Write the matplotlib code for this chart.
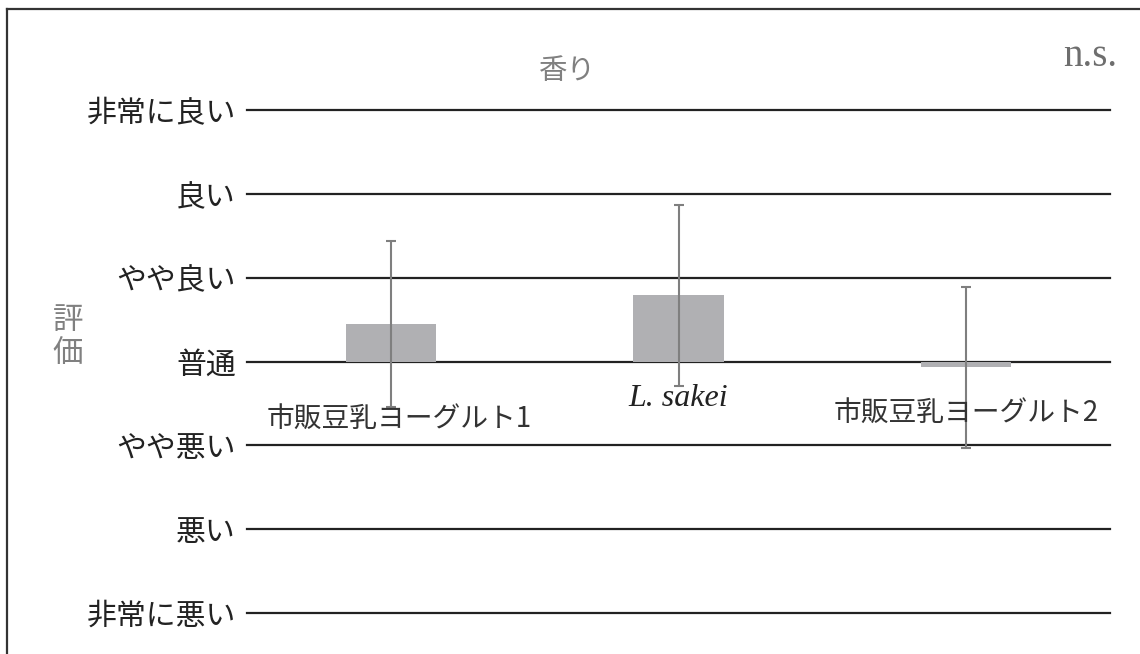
import matplotlib
matplotlib.use("Agg")
import matplotlib.pyplot as plt
from matplotlib.lines import Line2D

plt.rcParams['font.family'] = ['Noto Sans CJK JP', 'DejaVu Sans']

# -------------------------
# Data
# -------------------------
categories = ["市販豆乳ヨーグルト1", "L. sakei", "市販豆乳ヨーグルト2"]
means = [0.45, 0.79, -0.07]
sds = [0.99, 1.08, 0.96]
levels = [-3, -2, -1, 0, 1, 2, 3]
level_labels = ["非常に悪い", "悪い", "やや悪い", "普通", "やや良い", "良い", "非常に良い"]
title = "香り"
ylabel = "評\n価"
sig_text = "n.s."

# -------------------------
# Figure / axes
# -------------------------
W, H = 1140, 654
fig = plt.figure(figsize=(W / 100, H / 100), dpi=100)
ax = fig.add_axes([247 / W, (H - 613) / H, (1110 - 247) / W, (613 - 110) / H])

x = list(range(len(categories)))
ax.bar(x, means, width=0.313, color="#b0b0b3", zorder=2)
ax.errorbar(x, means, yerr=sds, fmt="none", ecolor="#7f7f7f",
            elinewidth=1.5, capsize=3.4, capthick=1.5, zorder=3)

ax.set_xlim(-0.5, len(categories) - 0.5)
ax.set_ylim(-3, 3)
ax.set_yticks(levels)
ax.set_yticklabels(level_labels, fontsize=21.5, color="#222222")
ax.set_xticks([])
ax.tick_params(axis="y", length=0, pad=8)
for s in ax.spines.values():
    s.set_visible(False)
for lv in levels:
    ax.axhline(lv, color="#222222", lw=1.6, zorder=1, clip_on=False)

# category labels sit just under the zero line, like the original
label_offsets = [(0.03, -0.68), (0.0, -0.44), (0.0, -0.61)]
for i, (name, (dx, dy)) in enumerate(zip(categories, label_offsets)):
    if name.startswith("L."):
        ax.text(i + dx, dy, name, ha="center", va="center", fontsize=23,
                family="Liberation Serif", style="italic", color="#222222", zorder=4)
    else:
        ax.text(i + dx, dy, name, ha="center", va="center", fontsize=20,
                color="#333333", zorder=4)

# title, axis label, significance mark
fig.text(567 / W, 1 - 71 / H, title, ha="center", va="center", fontsize=20.5, color="#808080")
fig.text(68 / W, 1 - 337 / H, ylabel, ha="center", va="center", fontsize=22,
         color="#808080", linespacing=1.05)
fig.text(1090 / W, 1 - 57 / H, sig_text, ha="center", va="center", fontsize=28,
         family="Liberation Serif", color="#6e6e6e")

# frame (left + top only visible in the crop)
fig.add_artist(Line2D([7 / W, 7 / W], [0, 1 - 9 / H], color="#333333", lw=1.6,
                      transform=fig.transFigure))
fig.add_artist(Line2D([7 / W, 1], [1 - 9 / H, 1 - 9 / H], color="#333333", lw=1.6,
                      transform=fig.transFigure))

fig.savefig("out.png", dpi=100)
